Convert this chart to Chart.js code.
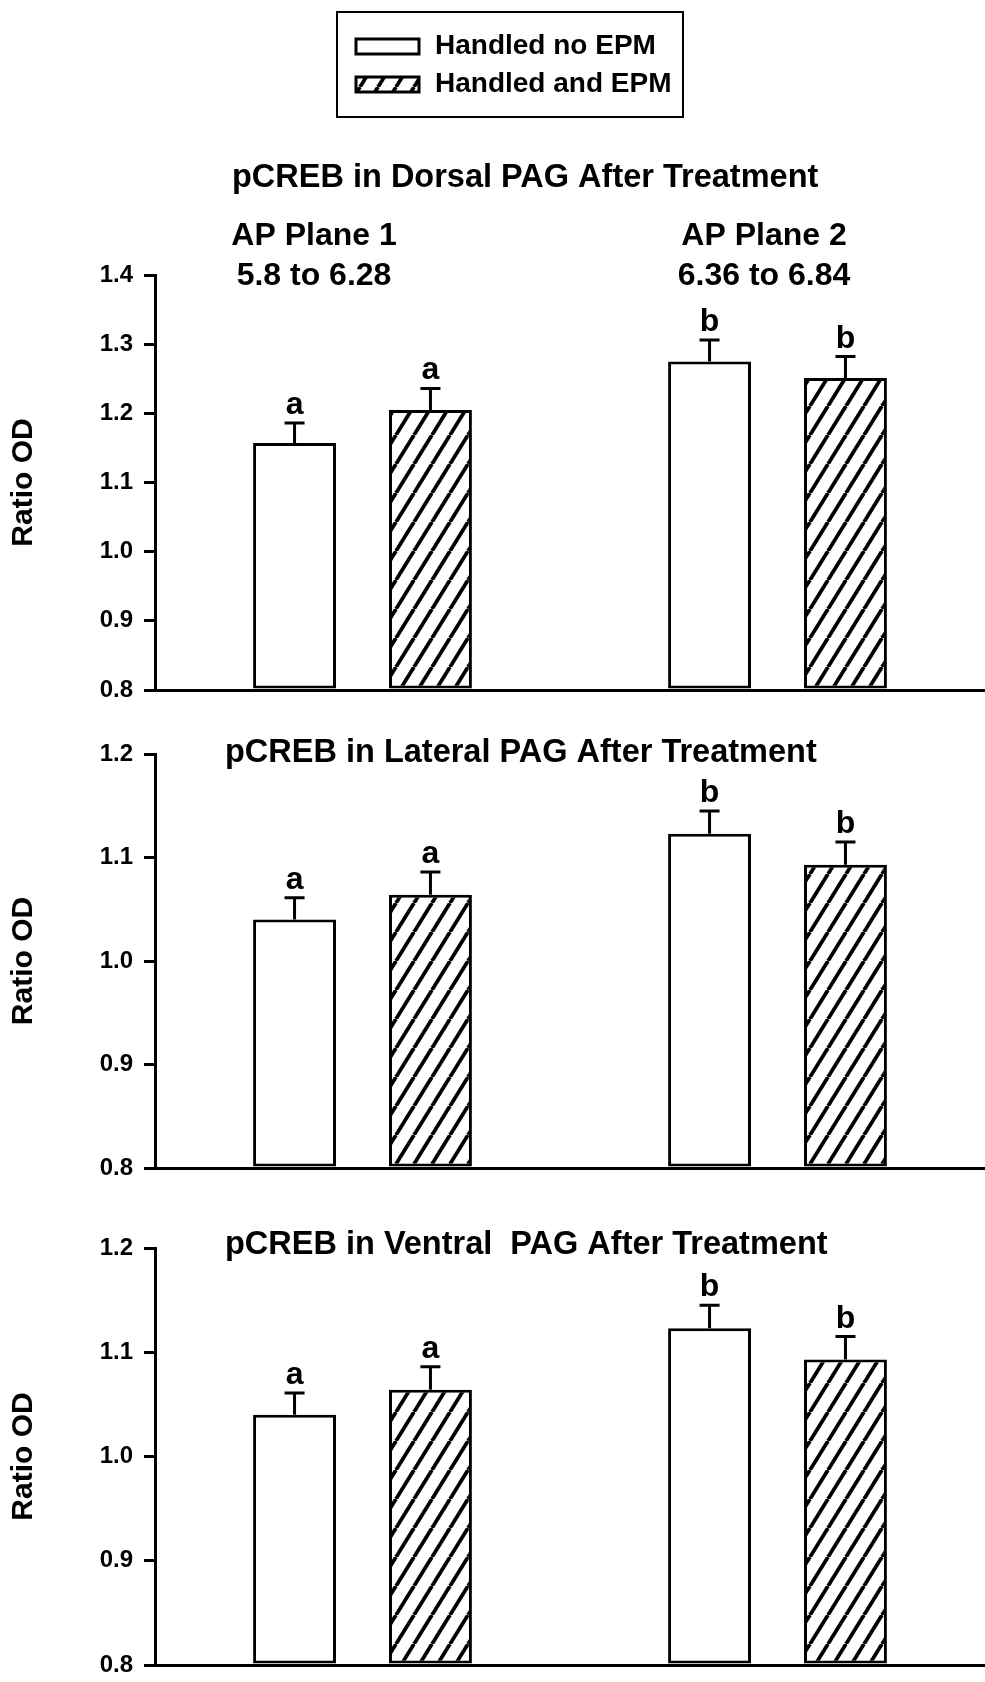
<!DOCTYPE html>
<html>
<head>
<meta charset="utf-8">
<script src="https://cdn.jsdelivr.net/npm/chart.js@4/dist/chart.umd.min.js"></script>
<style>
  html, body { margin: 0; padding: 0; background: #fff; }
  body { width: 985px; height: 1682px; position: relative; overflow: hidden; }
  canvas { position: absolute; left: 0; }
</style>
</head>
<body>
<canvas id="dorsal" width="985" height="720" style="top:0px"></canvas>
<canvas id="lateral" width="985" height="500" style="top:700px"></canvas>
<canvas id="ventral" width="985" height="530" style="top:1180px"></canvas>
<script>
// ---- data ----
const planes = ['AP Plane 1', 'AP Plane 2'];
const planeRanges = ['5.8 to 6.28', '6.36 to 6.84'];
const seriesNames = ['Handled no EPM', 'Handled and EPM'];
const groupLetters = ['a', 'b'];

const dorsalNoEPM = [1.157, 1.275];
const dorsalEPM = [1.205, 1.251];
const dorsalNoEPMErr = [0.029, 0.031];
const dorsalEPMErr = [0.031, 0.031];

const lateralNoEPM = [1.040, 1.123];
const lateralEPM = [1.064, 1.093];
const lateralNoEPMErr = [0.021, 0.022];
const lateralEPMErr = [0.022, 0.022];

const ventralNoEPM = [1.040, 1.123];
const ventralEPM = [1.064, 1.093];
const ventralNoEPMErr = [0.021, 0.022];
const ventralEPMErr = [0.022, 0.022];

const dorsalTicks = ['0.8', '0.9', '1.0', '1.1', '1.2', '1.3', '1.4'];
const lowerTicks = ['0.8', '0.9', '1.0', '1.1', '1.2'];

const titles = [
  'pCREB in Dorsal PAG After Treatment',
  'pCREB in Lateral PAG After Treatment',
  'pCREB in Ventral  PAG After Treatment'
];

// ---- drawing helpers ----
const FONT = '"Liberation Sans", Arial, Helvetica, sans-serif';
const INK = '#000';

function hatchPattern() {
  const W = 18, H = 29;
  const c = document.createElement('canvas');
  c.width = W; c.height = H;
  const g = c.getContext('2d');
  g.fillStyle = '#fff';
  g.fillRect(0, 0, W, H);
  g.strokeStyle = INK;
  g.lineWidth = 3.8;
  for (const o of [-W, 0, W]) {
    g.beginPath();
    g.moveTo(o, H);
    g.lineTo(o + W, 0);
    g.stroke();
  }
  return g.createPattern(c, 'repeat');
}
const hatch = hatchPattern();

// error bars (upper half only) with significance letters above them
const errorBars = {
  id: 'errorBars',
  afterDatasetsDraw(chart) {
    const ctx = chart.ctx;
    const y = chart.scales.y;
    ctx.save();
    ctx.strokeStyle = INK;
    ctx.lineWidth = 3;
    ctx.fillStyle = INK;
    ctx.font = 'bold 32px ' + FONT;
    ctx.textAlign = 'center';
    ctx.textBaseline = 'alphabetic';
    chart.data.datasets.forEach((ds, di) => {
      const meta = chart.getDatasetMeta(di);
      meta.data.forEach((bar, i) => {
        const v = ds.data[i];
        const top = y.getPixelForValue(v);
        const cap = y.getPixelForValue(v + ds.errors[i]);
        ctx.beginPath();
        ctx.moveTo(bar.x, top);
        ctx.lineTo(bar.x, cap);
        ctx.moveTo(bar.x - 10, cap);
        ctx.lineTo(bar.x + 10, cap);
        ctx.stroke();
        ctx.fillText(groupLetters[i], bar.x, cap - 9);
      });
    });
    ctx.restore();
  }
};

// panel titles, axis title, plane captions and legend
const panelText = {
  id: 'panelText',
  afterDraw(chart, args, opts) {
    const ctx = chart.ctx;
    const area = chart.chartArea;
    ctx.save();
    ctx.fillStyle = INK;
    ctx.textBaseline = 'middle';

    ctx.font = 'bold 32.5px ' + FONT;
    ctx.textAlign = 'left';
    ctx.fillText(opts.title, opts.titleX, opts.titleY);

    ctx.font = 'bold 32px ' + FONT;
    (opts.captions || []).forEach(c => {
      ctx.textAlign = 'center';
      ctx.fillText(c.text, c.x, c.y);
    });

    // "Ratio OD"
    ctx.save();
    ctx.translate(24, (area.top + area.bottom) / 2);
    ctx.rotate(-Math.PI / 2);
    ctx.font = 'bold 30px ' + FONT;
    ctx.textAlign = 'center';
    ctx.fillText('Ratio OD', 0, 0);
    ctx.restore();

    if (opts.legend) {
      const L = opts.legend;
      ctx.lineWidth = 2;
      ctx.strokeStyle = INK;
      ctx.strokeRect(L.x, L.y, L.w, L.h);
      ctx.font = 'bold 28px ' + FONT;
      ctx.textAlign = 'left';
      chart.data.datasets.forEach((ds, i) => {
        const cy = L.y + L.firstRow + i * L.rowGap;
        ctx.fillStyle = ds.backgroundColor;
        ctx.fillRect(L.x + 19, cy - 7, 63, 15);
        ctx.lineWidth = 3;
        ctx.strokeRect(L.x + 19, cy - 7, 63, 15);
        ctx.fillStyle = INK;
        ctx.fillText(ds.label, L.x + 98, cy);
      });
    }
    ctx.restore();
  }
};

function makePanel(id, cfg) {
  const canvas = document.getElementById(id);
  return new Chart(canvas, {
    type: 'bar',
    data: {
      labels: planes,
      datasets: [
        { label: seriesNames[0], data: cfg.noEPM, errors: cfg.noEPMErr,
          backgroundColor: '#fff', borderColor: INK, borderWidth: 3,
          borderSkipped: false, base: cfg.min },
        { label: seriesNames[1], data: cfg.epm, errors: cfg.epmErr,
          backgroundColor: hatch, borderColor: INK, borderWidth: 3,
          borderSkipped: false, base: cfg.min }
      ]
    },
    options: {
      responsive: false,
      animation: false,
      devicePixelRatio: 1,
      categoryPercentage: 0.655,
      barPercentage: 0.61,
      layout: { padding: { top: cfg.top, bottom: canvas.height - cfg.bottom, left: 0, right: 0 } },
      plugins: {
        legend: { display: false },
        tooltip: { enabled: false },
        panelText: cfg.text
      },
      scales: {
        x: {
          ticks: { display: false },
          grid: { display: false },
          border: { display: true, color: INK, width: 3 },
          afterFit(s) { s.height = 0; }
        },
        y: {
          min: cfg.min,
          max: cfg.max,
          ticks: {
            stepSize: 0.1,
            color: INK,
            padding: 11,
            font: { family: FONT, size: 24, weight: 'bold' },
            callback: (v, i) => cfg.ticks[i]
          },
          grid: {
            display: true, drawOnChartArea: false, drawTicks: true,
            tickLength: 11, color: INK, lineWidth: 3
          },
          border: { display: true, color: INK, width: 3 },
          afterFit(s) { s.width = 155; }
        }
      }
    },
    plugins: [errorBars, panelText]
  });
}

makePanel('dorsal', {
  noEPM: dorsalNoEPM, epm: dorsalEPM, noEPMErr: dorsalNoEPMErr, epmErr: dorsalEPMErr,
  min: 0.8, max: 1.4, ticks: dorsalTicks, top: 275, bottom: 690,
  text: {
    title: titles[0], titleX: 232, titleY: 178,
    captions: [
      { text: planes[0], x: 314, y: 236 },
      { text: planeRanges[0], x: 314, y: 276 },
      { text: planes[1], x: 764, y: 236 },
      { text: planeRanges[1], x: 764, y: 276 }
    ],
    legend: { x: 337, y: 12, w: 346, h: 105, firstRow: 34, rowGap: 38 }
  }
});

makePanel('lateral', {
  noEPM: lateralNoEPM, epm: lateralEPM, noEPMErr: lateralNoEPMErr, epmErr: lateralEPMErr,
  min: 0.8, max: 1.2, ticks: lowerTicks, top: 54, bottom: 468,
  text: { title: titles[1], titleX: 225, titleY: 53 }
});

makePanel('ventral', {
  noEPM: ventralNoEPM, epm: ventralEPM, noEPMErr: ventralNoEPMErr, epmErr: ventralEPMErr,
  min: 0.8, max: 1.2, ticks: lowerTicks, top: 68, bottom: 485,
  text: { title: titles[2], titleX: 225, titleY: 65 }
});
</script>
</body>
</html>
